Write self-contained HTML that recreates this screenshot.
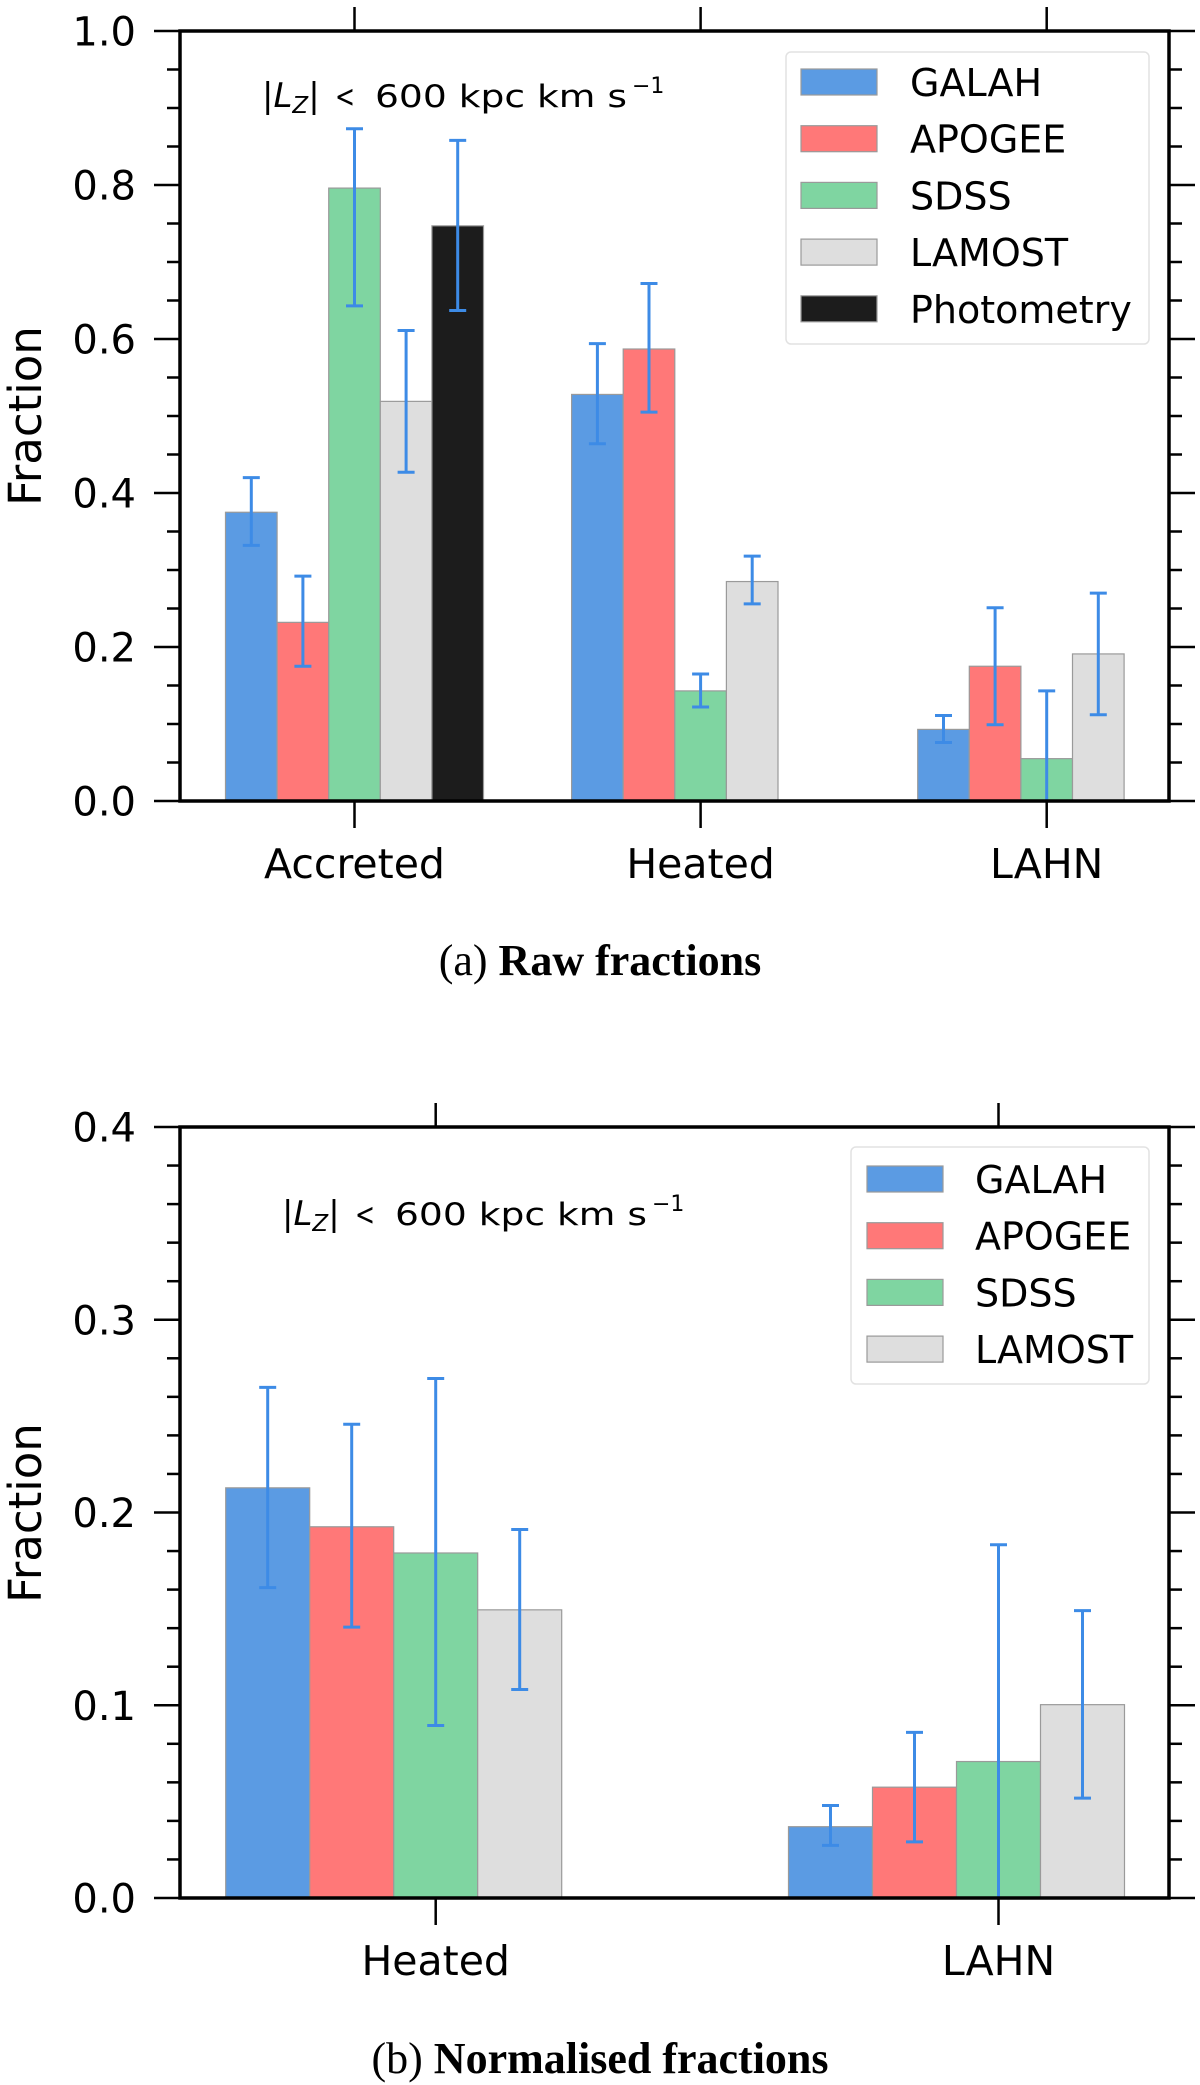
<!DOCTYPE html>
<html><head><meta charset="utf-8">
<style>
html,body{margin:0;padding:0;background:#fff;}
svg{display:block;}
text{font-family:"DejaVu Sans","Liberation Sans",sans-serif;}
.cap{font-family:"Liberation Serif",serif;}
</style></head>
<body>
<svg id="fig" width="1200" height="2085" viewBox="0 0 1200 2085" xmlns="http://www.w3.org/2000/svg"></svg>
<script>
// ---- data ----
const seriesNames = ["GALAH","APOGEE","SDSS","LAMOST","Photometry"];
const seriesColors = ["#5b9be3","#ff7878","#7fd5a1","#dedede","#1c1c1c"];
// chart (a)
const catsA = ["Accreted","Heated","LAHN"];
const galahA = [0.375,0.528,0.093];
const apogeeA = [0.232,0.587,0.175];
const sdssA = [0.796,0.143,0.055];
const lamostA = [0.519,0.285,0.191];
const photA = [0.747,null,null];
const galahAErrHi = [0.420,0.594,0.111];
const galahAErrLo = [0.332,0.464,0.076];
const apogeeAErrHi = [0.292,0.672,0.251];
const apogeeAErrLo = [0.175,0.505,0.099];
const sdssAErrHi = [0.873,0.165,0.143];
const sdssAErrLo = [0.643,0.122,0.0];
const lamostAErrHi = [0.611,0.318,0.270];
const lamostAErrLo = [0.427,0.256,0.112];
const photAErrHi = [0.858,null,null];
const photAErrLo = [0.637,null,null];
const ticksA = ["0.0","0.2","0.4","0.6","0.8","1.0"];
// chart (b)
const catsB = ["Heated","LAHN"];
const galahB = [0.2128,0.037];
const apogeeB = [0.1926,0.0575];
const sdssB = [0.179,0.0708];
const lamostB = [0.1495,0.1003];
const galahBErrHi = [0.2649,0.048];
const galahBErrLo = [0.161,0.0273];
const apogeeBErrHi = [0.2458,0.0859];
const apogeeBErrLo = [0.1405,0.0291];
const sdssBErrHi = [0.2695,0.1833];
const sdssBErrLo = [0.0895,0.0];
const lamostBErrHi = [0.1912,0.1491];
const lamostBErrLo = [0.1082,0.0518];
const ticksB = ["0.0","0.1","0.2","0.3","0.4"];

const NS="http://www.w3.org/2000/svg";
const svg=document.getElementById('fig');
function mk(tag,attrs,parent,txt){const e=document.createElementNS(NS,tag);for(const k in attrs)e.setAttribute(k,attrs[k]);if(txt!==undefined)e.textContent=txt;(parent||svg).appendChild(e);return e;}

function chart(cfg){
  const g=mk('g',{});
  
  
  const L=180,R=1169,T=cfg.top,B=cfg.bottom;
  const y=v=>B-(v/cfg.ymax)*(B-T);
  const xc=i=>cfg.centers[i];
  // bars
  cfg.series.forEach((s,si)=>{
    s.vals.forEach((v,ci)=>{
      if(v===null) return;
      const x0=xc(ci)+(si-2)*cfg.bw-cfg.bw/2;
      const r=mk('rect',{x:x0,y:y(v),width:cfg.bw,height:B-y(v),fill:seriesColors[si],stroke:'#9a9a9a','stroke-width':1.2},g);
      
      
    });
  });
  // error bars
  cfg.series.forEach((s,si)=>{
    s.vals.forEach((v,ci)=>{
      if(v===null) return;
      const cx=xc(ci)+(si-2)*cfg.bw;
      const hi=y(s.hi[ci]), lo=y(s.lo[ci]);
      const eg=mk('g',{stroke:'#3d8be6','stroke-width':3},g);
      
      
      mk('line',{x1:cx,y1:hi,x2:cx,y2:lo},eg);
      mk('line',{x1:cx-8.5,y1:hi,x2:cx+8.5,y2:hi},eg);
      mk('line',{x1:cx-8.5,y1:lo,x2:cx+8.5,y2:lo},eg);
    });
  });
  // y ticks
  const tg=mk('g',{stroke:'#000','stroke-width':2.5},g);
  
  
  for(let v=0;v<=cfg.ymax+1e-9;v+=cfg.minor){
    const yy=y(v);
    const major=Math.abs(Math.round(v/cfg.major)*cfg.major-v)<1e-6;
    const len=major?26:13;
    mk('line',{x1:L-len,y1:yy,x2:L,y2:yy},tg);
    mk('line',{x1:R,y1:yy,x2:R+len,y2:yy},tg);
  }
  cfg.ticks.forEach((t,i)=>{
    const tl=mk('text',{x:136,y:y(parseFloat(t))+14.5,'text-anchor':'end','font-size':40},g,t);
    
    
  });
  // x ticks & labels
  cfg.cats.forEach((c,i)=>{
    mk('line',{x1:xc(i),y1:B,x2:xc(i),y2:B+27,stroke:'#000','stroke-width':2.5},g);
    mk('line',{x1:xc(i),y1:T,x2:xc(i),y2:T-24,stroke:'#000','stroke-width':2.5},g);
    const xl=mk('text',{x:xc(i),y:B+77,'text-anchor':'middle','font-size':41},g,c);
    
    
  });
  // frame
  const fr=mk('rect',{x:L,y:T,width:R-L,height:B-T,fill:'none',stroke:'#000','stroke-width':3.5},g);
  
  
  // y label
  const yl=mk('text',{x:0,y:0,'text-anchor':'middle','font-size':45,transform:`translate(41,${cfg.ylabelY}) rotate(-90)`},g,'Fraction');
  
  
  // annotation
  const ag=mk('g',{'font-size':31},g);
  
  
  const ax=cfg.annX, ay=cfg.annY;
  const t1=mk('text',{x:ax,y:ay,'font-size':34},ag);
  t1.innerHTML='|<tspan font-style="italic">L</tspan><tspan font-style="italic" font-size="23" dy="6">Z</tspan><tspan dy="-6">|</tspan>';
  mk('text',{x:ax+73,y:ay,textLength:20,lengthAdjust:'spacingAndGlyphs'},ag,'<');
  mk('text',{x:ax+113,y:ay,textLength:252,lengthAdjust:'spacingAndGlyphs'},ag,'600 kpc km s');
  mk('text',{x:ax+370,y:ay-14,'font-size':22},ag,'−1');
  // legend
  const lg=mk('g',{},g);
  
  
  mk('rect',{x:cfg.leg.x,y:cfg.leg.y,width:cfg.leg.w,height:cfg.leg.h,rx:5,fill:'#fff',stroke:'#e2e2e2','stroke-width':1.5},lg);
  cfg.series.forEach((s,si)=>{
    const cy=cfg.leg.row0+si*cfg.leg.dy;
    const e=mk('g',{},lg);
    
    
    mk('rect',{x:cfg.leg.px,y:cy-13,width:76,height:26,fill:seriesColors[si],stroke:'#9a9a9a','stroke-width':1.2},e);
    mk('text',{x:cfg.leg.tx,y:cy+14,'font-size':38},e,seriesNames[si]);
  });
  // caption
  const cp=mk('text',{x:600,y:cfg.capY,'text-anchor':'middle','font-size':44,class:'cap'},svg);
  
  
  cp.innerHTML=cfg.capLabel+' <tspan font-weight="bold">'+cfg.capBold+'</tspan>';
}

chart({name:'raw-fractions-chart',top:31,bottom:801,ymax:1.0,major:0.2,minor:0.05,ticks:ticksA,
  cats:catsA,centers:[354.5,700.6,1046.7],bw:51.6,
  series:[{vals:galahA,hi:galahAErrHi,lo:galahAErrLo},{vals:apogeeA,hi:apogeeAErrHi,lo:apogeeAErrLo},
          {vals:sdssA,hi:sdssAErrHi,lo:sdssAErrLo},{vals:lamostA,hi:lamostAErrHi,lo:lamostAErrLo},
          {vals:photA,hi:photAErrHi,lo:photAErrLo}],
  ylabelY:416,annX:262,annY:107,
  leg:{x:786,y:52,w:363,h:292,row0:82,dy:56.7,px:801,tx:910},
  capY:975,capName:'caption-a',capLabel:'(a)',capBold:'Raw fractions'});

chart({name:'normalised-fractions-chart',top:1127,bottom:1898,ymax:0.4,major:0.1,minor:0.02,ticks:ticksB,
  cats:catsB,centers:[435.7,998.5],bw:84,
  series:[{vals:galahB,hi:galahBErrHi,lo:galahBErrLo},{vals:apogeeB,hi:apogeeBErrHi,lo:apogeeBErrLo},
          {vals:sdssB,hi:sdssBErrHi,lo:sdssBErrLo},{vals:lamostB,hi:lamostBErrHi,lo:lamostBErrLo}],
  ylabelY:1513,annX:282,annY:1225,
  leg:{x:851,y:1147,w:298,h:237,row0:1179,dy:56.7,px:867,tx:975},
  capY:2073,capName:'caption-b',capLabel:'(b)',capBold:'Normalised fractions'});
</script>
</body></html>
